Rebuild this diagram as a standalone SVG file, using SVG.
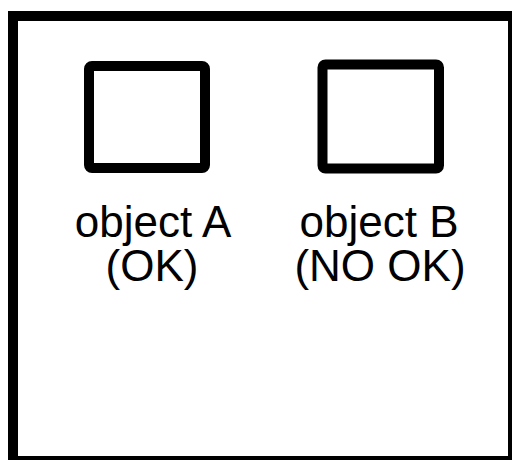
<svg xmlns="http://www.w3.org/2000/svg" width="512" height="462" viewBox="0 0 512 462">
  <style>
    .box { fill: #ffffff; stroke: #000000; stroke-width: 10; }
    .lbl { font-family: "Liberation Sans", Arial, sans-serif; font-size: 44px; fill: #000000; text-anchor: middle; }
  </style>
  <rect x="0" y="0" width="512" height="462" fill="#ffffff"/>
  <g id="frame">
    <path d="M8,11 H512 V460 H8 Z M18,21 V456 H508 V21 Z" fill="#000000" fill-rule="evenodd"/>
  </g>
  <g id="objectA">
    <rect class="box" x="89" y="66" width="116" height="102" rx="3"/>
    <text class="lbl" x="153" y="237">object A</text>
    <text class="lbl" x="152" y="281">(OK)</text>
  </g>
  <g id="objectB">
    <rect class="box" x="322.5" y="64.5" width="116.5" height="104" rx="3"/>
    <text class="lbl" x="379" y="237">object B</text>
    <text class="lbl" x="380" y="281">(NO OK)</text>
  </g>
  <g id="connectors"></g>
</svg>
